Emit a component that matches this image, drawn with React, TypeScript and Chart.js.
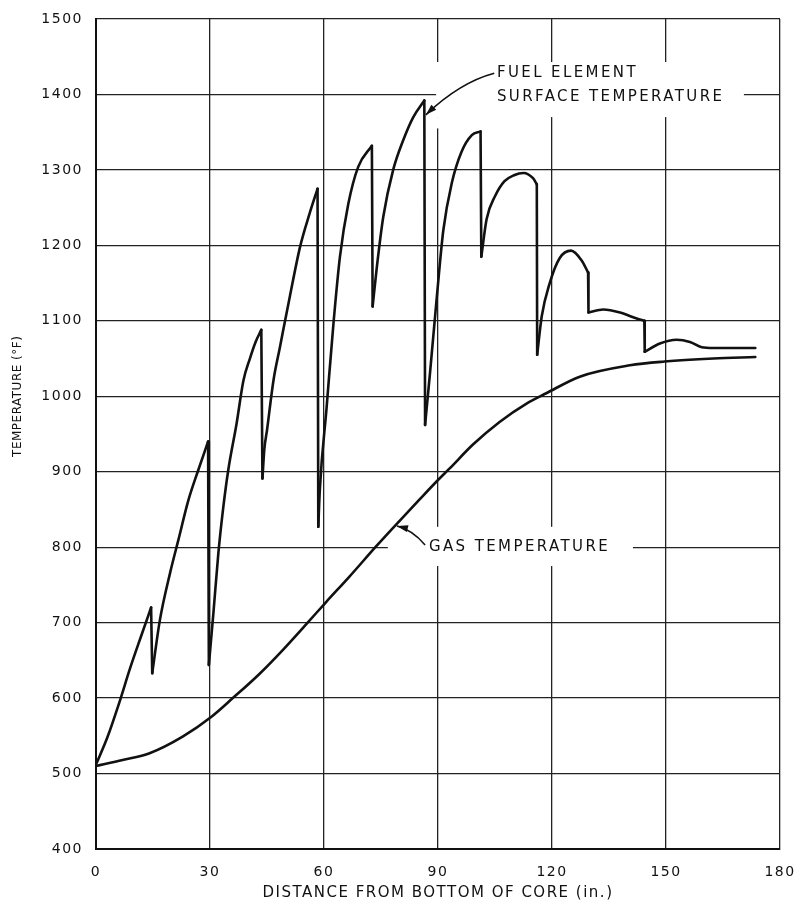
import React, { useEffect, useRef } from "react";
import { Chart, registerables } from "chart.js";

Chart.register(...registerables);

// ---- data ----
const xTickValues = [0, 30, 60, 90, 120, 150, 180];
const yTickValues = [400, 500, 600, 700, 800, 900, 1000, 1100, 1200, 1300, 1400, 1500];

const fuelX = [
  0, 3, 6, 9, 12, 14.5,
  14.8, 16.8, 19.5, 21.7, 24.3, 26.9, 29.5,
  29.7, 30.9, 32.2, 33.5, 34.8, 37, 38.8, 40.5, 42, 43.5,
  43.8, 44.3, 45, 46.7, 48.4, 51, 53.7, 56.2, 58.3,
  58.5, 58.9, 60.7, 62.5, 64.2, 66.4, 69, 72.6,
  72.8, 73.9, 75.6, 78.2, 80.9, 83.5, 86.4,
  86.6, 87.9, 89.7, 91.4, 93.6, 96.2, 98.9, 101.2,
  101.4, 102.8, 105, 107.5, 110, 112.5, 115, 116,
  116.1, 117.3, 119.4, 122, 125, 127.8, 129.5,
  129.6, 133.5, 137.9, 142.3, 144.3,
  144.4, 148.4, 152.8, 156.3, 159.4, 162.5, 173.5,
];
const fuelY = [
  512, 548, 592, 640, 684, 720,
  633, 703, 766, 810, 862, 902, 940,
  644, 713, 792, 853, 902, 964, 1021, 1050, 1072, 1088,
  891, 930, 955, 1021, 1065, 1132, 1198, 1242, 1275,
  827, 876, 986, 1097, 1185, 1255, 1304, 1332,
  1119, 1171, 1238, 1300, 1340, 1370, 1392,
  962, 1031, 1132, 1220, 1282, 1324, 1346, 1351,
  1185, 1235, 1265, 1285, 1293, 1296, 1289, 1281,
  1055, 1106, 1150, 1183, 1193, 1180, 1164,
  1111, 1115, 1111, 1103, 1100,
  1059, 1070, 1075, 1072, 1065, 1064, 1064,
];

const gasX = [0, 7, 14.1, 22.8, 30.3, 36, 43, 49.2, 55.7, 60.5, 66.7, 73.7, 79.9, 85.1, 90, 93, 99.2, 106.2, 113.2, 118.5, 127.3, 140.5, 149.6, 162.5, 173.5];
const gasY = [510, 518, 527, 549, 575, 600, 632, 664, 700, 727, 761, 801, 835, 863, 889, 904, 936, 966, 990, 1004, 1026, 1041, 1046, 1050, 1052];

const xTitle = "DISTANCE FROM BOTTOM OF CORE (in.)";
const yTitle = "TEMPERATURE (°F)";
const fuelLabel = ["FUEL ELEMENT", "SURFACE TEMPERATURE"];
const gasLabel = "GAS TEMPERATURE";

const INK = "#111";
const FONT = "'DejaVu Sans', sans-serif";

type P = { x: number; y: number | null };

// split the fuel curve into smooth rising pieces and the near-vertical drops between them
function buildFuel() {
  const pieces: P[][] = [];
  const drops: P[] = [];
  let cur: P[] = [];
  for (let i = 0; i < fuelX.length; i++) {
    cur.push({ x: fuelX[i], y: fuelY[i] });
    if (i + 1 < fuelX.length && fuelY[i + 1] < fuelY[i] - 25) {
      pieces.push(cur);
      cur = [];
      drops.push({ x: fuelX[i], y: fuelY[i] }, { x: fuelX[i + 1], y: fuelY[i + 1] }, { x: fuelX[i + 1], y: null });
    }
  }
  pieces.push(cur);
  return { pieces, drops };
}

function arrow(ctx: CanvasRenderingContext2D, sx: number, sy: number, cx: number, cy: number, tx: number, ty: number) {
  ctx.beginPath();
  ctx.moveTo(sx, sy);
  ctx.quadraticCurveTo(cx, cy, tx, ty);
  ctx.stroke();
  const ang = Math.atan2(ty - cy, tx - cx);
  const L = 11, W = 3.5;
  ctx.beginPath();
  ctx.moveTo(tx, ty);
  ctx.lineTo(tx - L * Math.cos(ang) + W * Math.sin(ang), ty - L * Math.sin(ang) - W * Math.cos(ang));
  ctx.lineTo(tx - L * Math.cos(ang) - W * Math.sin(ang), ty - L * Math.sin(ang) + W * Math.cos(ang));
  ctx.closePath();
  ctx.fill();
}

const decorPlugin = {
  id: "decor",
  beforeDraw(chart: any) {
    chart.ctx.letterSpacing = "1.5px";
  },
  beforeDatasetsDraw(chart: any) {
    const { ctx, scales } = chart;
    const xs = scales.x, ys = scales.y;
    ctx.save();
    ctx.fillStyle = "#fff";
    const r = (x0: number, x1: number, y0: number, y1: number) => {
      const a = xs.getPixelForValue(x0), b = xs.getPixelForValue(x1);
      const c = ys.getPixelForValue(y0), d = ys.getPixelForValue(y1);
      ctx.fillRect(a, c, b - a, d - c);
    };
    r(89.5, 170.5, 1443, 1370);
    r(89.5, 91, 1370, 1355);
    r(76.8, 141.3, 827, 775);
    ctx.restore();
  },
  afterDraw(chart: any) {
    const { ctx, scales, chartArea } = chart;
    const xs = scales.x, ys = scales.y;
    const px = (v: number) => xs.getPixelForValue(v);
    const py = (v: number) => ys.getPixelForValue(v);
    ctx.save();
    ctx.fillStyle = INK;
    ctx.strokeStyle = INK;
    ctx.lineWidth = 1.6;
    ctx.letterSpacing = "2.4px";
    ctx.font = `15px ${FONT}`;
    ctx.textBaseline = "middle";
    ctx.textAlign = "left";
    ctx.fillText(fuelLabel[0], px(105.5), py(1428));
    ctx.fillText(fuelLabel[1], px(105.5), py(1397));
    ctx.fillText(gasLabel, px(87.6), py(800));
    arrow(ctx, px(104.8), py(1428), px(95.8), py(1416), px(86.8), py(1373));
    arrow(ctx, px(86.6), py(803), px(83.2), py(823), px(79.2), py(828));
    ctx.letterSpacing = "0.5px";
    ctx.font = `12px ${FONT}`;
    ctx.translate(chartArea.left - 78, py(1000));
    ctx.rotate(-Math.PI / 2);
    ctx.textAlign = "center";
    ctx.fillText(yTitle, 0, 0);
    ctx.restore();
  },
};

export default function App() {
  const ref = useRef<HTMLCanvasElement | null>(null);
  useEffect(() => {
    document.body.style.margin = "0";
    const canvas = ref.current!;
    const { pieces, drops } = buildFuel();
    const lineStyle = {
      borderColor: INK,
      borderWidth: 2.6,
      pointRadius: 0,
      borderJoinStyle: "round" as const,
      borderCapStyle: "round" as const,
      fill: false,
    };
    const datasets: any[] = pieces.map((p, i) => ({
      label: "Fuel element surface temperature " + (i + 1),
      data: p,
      cubicInterpolationMode: "monotone",
      ...lineStyle,
    }));
    datasets.push({ label: "Fuel drops", data: drops, tension: 0, spanGaps: false, ...lineStyle });
    datasets.push({
      label: "Gas temperature",
      data: gasX.map((x, i) => ({ x, y: gasY[i] })),
      cubicInterpolationMode: "monotone",
      ...lineStyle,
    });
    const chart = new Chart(canvas, {
      type: "line",
      data: { datasets },
      options: {
        responsive: false,
        animation: false,
        devicePixelRatio: 1,
        layout: { padding: { left: 0, right: 18, top: 19, bottom: 0 } },
        plugins: { legend: { display: false }, tooltip: { enabled: false }, title: { display: false } },
        scales: {
          x: {
            type: "linear",
            min: 0,
            max: 180,
            afterFit: (s: any) => { s.height = 59; s.paddingLeft = 0; s.paddingRight = 0; },
            afterBuildTicks: (s: any) => { s.ticks = xTickValues.map((v) => ({ value: v })); },
            ticks: { color: INK, font: { family: FONT, size: 14 }, padding: 15, maxRotation: 0, autoSkip: false, callback: (v: any) => String(v) },
            grid: { color: "#222", lineWidth: 1.3, drawTicks: false },
            border: { color: INK, width: 2 },
            title: { display: true, text: xTitle, color: INK, font: { family: FONT, size: 15 }, padding: { top: 0, bottom: 6 } },
          },
          y: {
            type: "linear",
            min: 400,
            max: 1500,
            afterFit: (s: any) => { s.width = 96; s.paddingTop = 0; s.paddingBottom = 0; },
            afterBuildTicks: (s: any) => { s.ticks = yTickValues.map((v) => ({ value: v })); },
            ticks: { color: INK, font: { family: FONT, size: 14 }, padding: 13, autoSkip: false, callback: (v: any) => String(v) },
            grid: { color: "#222", lineWidth: 1.3, drawTicks: false },
            border: { color: INK, width: 2 },
          },
        },
      },
      plugins: [decorPlugin],
    });
    return () => chart.destroy();
  }, []);
  return <canvas ref={ref} width={798} height={908} style={{ display: "block", width: 798, height: 908 }} />;
}
